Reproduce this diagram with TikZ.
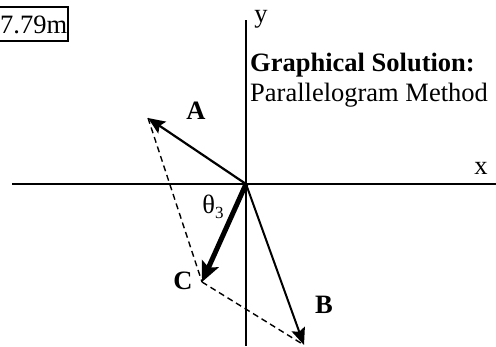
\documentclass[tikz,border=0pt]{standalone}
\usepackage{fontspec}
\setmainfont{Liberation Serif}
\usetikzlibrary{arrows.meta}
\begin{document}
\begin{tikzpicture}[x=1pt,y=-1pt,
  axis/.style={line width=1.8pt},
  vec/.style={line width=2.2pt,-{Stealth[length=17pt,width=14pt,inset=3pt]}},
  resvec/.style={line width=5pt,-{Stealth[length=20pt,width=18pt,inset=4pt]}},
  guide/.style={line width=1.4pt,dash pattern=on 6pt off 4pt},
  lbl/.style={inner sep=0pt,font=\fontsize{26.5}{30}\selectfont},
  blbl/.style={lbl,font=\fontsize{26.5}{30}\selectfont\bfseries}]
\useasboundingbox (0,0) rectangle (496,346);
% axes
\coordinate (xl) at (12,184);
\coordinate (xr) at (496,184);
\coordinate (yt) at (246,20);
\coordinate (yb) at (246,346);
\draw[axis] (xl) -- (xr);
\draw[axis] (yt) -- (yb);
% points
\coordinate (O) at (246,184);
\coordinate (A) at (148,118);
\coordinate (C) at (202,282);
\coordinate (B) at (304,345);
% parallelogram guides
\draw[guide] (A) -- (C);
\draw[guide] (C) -- (B);
% vectors
\draw[vec] (O) -- (A);
\draw[vec,line width=2pt] (O) -- (B);
\draw[resvec] (O) -- (C);
% labels
\node[blbl] (la) at (196,111) {A};
\node[blbl] (lb) at (324,305) {B};
\node[blbl] (lc) at (183,281) {C};
\node[lbl] (lt) at (213,207) {θ\raisebox{-5pt}{\fontsize{17}{17}\selectfont 3}};
\node[lbl,anchor=base] (lx) at (481,174) {x};
\node[lbl,anchor=base] (ly) at (261,22) {y};
\node[blbl,anchor=base west] (g1) at (250,71) {Graphical Solution:};
\node[lbl,anchor=base west] (g2) at (250,101) {Parallelogram Method};
% boxed value
\node[lbl,anchor=base west] (val) at (0,33) {7.79m};
\draw[line width=1.6pt] (-1,7) rectangle (68,41);
\end{tikzpicture}
\end{document}
